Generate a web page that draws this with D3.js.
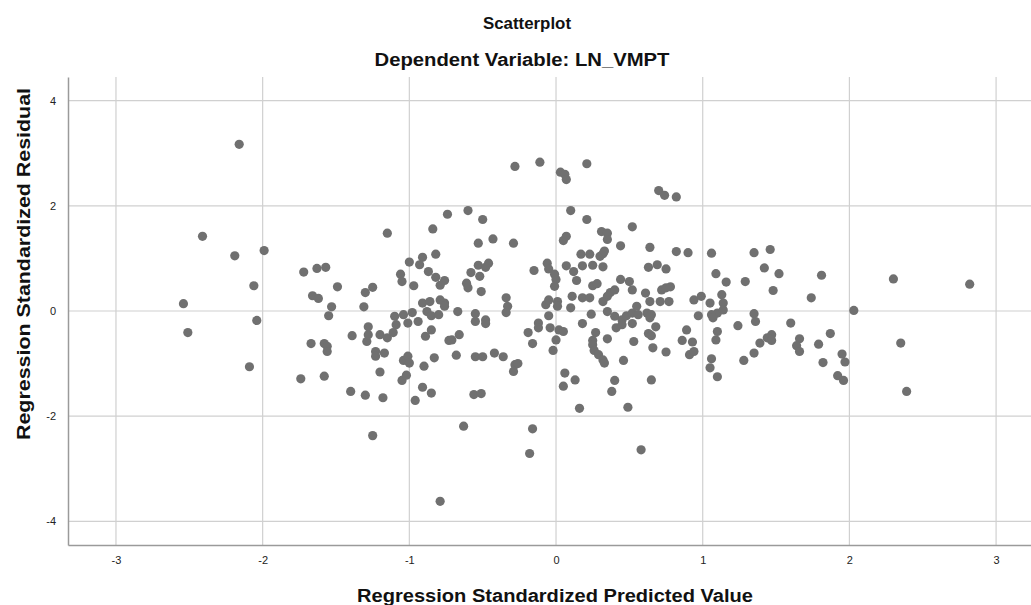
<!DOCTYPE html>
<html lang="en">
  <head>
    <meta charset="UTF-8" />
    <title>Scatterplot</title>
    <script src="https://cdn.jsdelivr.net/npm/d3@7"></script>
    <style>
      body { margin: 0; background: #fff; }
      text { font-family: Arial, "Liberation Sans", sans-serif; }
    </style>
  </head>
  <body>
    <div id="chart"></div>
    <script>
      // standardized predicted values (x) and residuals (y)
      const predicted = [
        -2.16, -2.41, -2.19, -1.99, -1.72, -1.63, -1.57, -2.06, -1.49, -1.66, -1.62, -1.30, -1.25, -2.54, -1.53, -1.31,
        -1.55, -2.04, -2.51, -2.09, -1.67, -1.58, -1.56, -1.56, -1.39, -1.28, -1.29, -1.74, -1.58, -1.40, -1.30, -1.25, -1.28,
        -0.28, -0.11, -0.74, -0.60, -0.50, -1.15, -0.84, -0.53, -0.43, -0.29, -0.82, -0.91, -0.93, -1.00, -1.06, -1.05,
        -0.87, -0.82, -0.76, -0.79, -0.97, -0.58, -0.53, -0.46, -0.48, -0.52, -0.61, -0.60, -0.51, -0.15, -0.06, -0.05,
        -0.01, 0.00, -0.01, -0.34, -0.33, -0.91, -0.86, -0.79, -0.76, -0.76, -0.07, -0.05, 0.01, 0.01,
        -1.10, -1.04, -0.98, -0.88, -0.85, -0.80, -0.67, -0.55, -0.55, -0.48, -0.48, -0.34, -0.05, -0.12, -0.12, -0.04, 0.02,
        -1.20, -1.15, -1.11, -1.09, -1.01, -0.94, -0.89, -0.85, -0.73, -0.71, -0.66, -1.23, -1.23, -1.17, -1.04, -1.01,
        -1.00, -0.83, -0.90, -0.68, -0.55, -0.50, -0.42, -0.36, -0.28, -0.26, -0.29, -0.19, -0.16, -0.02, 0.00, -1.20,
        -1.05, -1.02, -0.91, -0.85, -1.18, -0.96, -0.56, -0.51, -0.63, -0.16, -0.18, -0.79,
        0.03, 0.06, 0.07, 0.21, 0.70, 0.74, 0.82, 0.10, 0.21, 0.31, 0.35, 0.35, 0.52, 0.05, 0.07, 0.44, 0.64, 0.82, 0.90,
        1.06, 0.17, 0.23, 0.30, 0.32, 0.33, 0.07, 0.12, 0.18, 0.25, 0.32, 0.14, 0.63, 0.69, 0.75, 1.09, 1.16, 1.29, 0.44,
        0.50, 0.52, 0.25, 0.28, 0.72, 0.75, 0.78, 0.37, 0.40, 0.35, 0.32, 0.11, 0.18, 0.23, 0.61, 0.64, 0.71, 0.77, 0.94,
        0.99, 1.05, 1.13, 1.14, 0.10, 0.55,
        0.24, 0.35, 0.40, 0.45, 0.48, 0.52, 0.56, 0.62, 0.65, 0.64, 0.97, 1.06, 1.10, 1.14, 1.07, 0.05, 0.18, 0.27, 0.25,
        0.25, 0.26, 0.29, 0.32, 0.33, 0.35, 0.41, 0.45, 0.52, 0.53, 0.63, 0.65, 0.68, 0.66, 0.75, 0.89, 0.86, 0.93, 0.91,
        0.94, 1.10, 1.09, 1.24, 1.06, 1.05, 1.10, 1.28, 0.46, 0.06, 0.05, 0.13, 0.40, 0.38, 0.65, 0.16, 0.49, 0.58,
        2.03, 1.35, 1.36, 1.60, 1.47, 1.44, 1.47, 1.39, 1.35, 1.66, 1.64, 1.66, 1.79, 1.87, 1.82, 1.95, 1.97, 1.92, 1.96,
        2.35, 2.39, 1.35, 1.46, 1.42, 1.52, 1.48, 1.81, 1.74, 2.30, 2.82
      ];
      const residual = [
        3.17, 1.42, 1.05, 1.15, 0.74, 0.81, 0.83, 0.48, 0.46, 0.29, 0.24, 0.35, 0.45, 0.14, 0.08, 0.08,
        -0.09, -0.18, -0.41, -1.06, -0.62, -0.62, -0.67, -0.77, -0.47, -0.30, -0.58, -1.29, -1.24, -1.53, -1.60, -2.37, -0.45,
        2.75, 2.83, 1.84, 1.91, 1.74, 1.48, 1.56, 1.29, 1.37, 1.29, 1.08, 1.02, 0.88, 0.93, 0.70, 0.56,
        0.75, 0.64, 0.58, 0.49, 0.48, 0.73, 0.87, 0.91, 0.83, 0.66, 0.53, 0.44, 0.37, 0.77, 0.91, 0.80,
        0.70, 0.60, 0.47, 0.25, 0.09, 0.15, 0.18, 0.21, 0.15, 0.09, 0.12, 0.21, 0.18, 0.09,
        -0.10, -0.07, -0.03, -0.01, -0.09, -0.07, -0.01, -0.05, -0.20, -0.17, -0.24, -0.03, -0.09, -0.23, -0.32, -0.32, -0.36,
        -0.45, -0.51, -0.41, -0.26, -0.23, -0.20, -0.48, -0.36, -0.56, -0.55, -0.45, -0.77, -0.86, -0.80, -0.94, -0.86,
        -0.99, -0.89, -1.05, -0.84, -0.87, -0.87, -0.80, -0.87, -1.02, -1.00, -1.15, -0.41, -0.62, -0.75, -0.55, -1.16,
        -1.32, -1.22, -1.45, -1.56, -1.65, -1.70, -1.59, -1.57, -2.19, -2.24, -2.71, -3.62,
        2.64, 2.60, 2.50, 2.80, 2.29, 2.20, 2.17, 1.91, 1.74, 1.51, 1.48, 1.36, 1.60, 1.34, 1.42, 1.24, 1.21, 1.13, 1.11,
        1.10, 1.08, 1.08, 1.04, 1.09, 1.14, 0.86, 0.75, 0.86, 0.87, 0.84, 0.58, 0.83, 0.88, 0.80, 0.71, 0.55, 0.56, 0.60,
        0.56, 0.40, 0.48, 0.52, 0.40, 0.44, 0.46, 0.35, 0.40, 0.28, 0.18, 0.28, 0.25, 0.25, 0.34, 0.18, 0.18, 0.18, 0.21,
        0.28, 0.15, 0.31, 0.15, 0.06, 0.09,
        -0.06, -0.01, -0.10, -0.17, -0.09, -0.04, -0.07, -0.04, -0.07, -0.13, -0.09, -0.07, -0.04, 0.02, -0.13, -0.39, -0.24, -0.41, -0.56,
        -0.64, -0.75, -0.83, -0.93, -0.99, -0.53, -0.32, -0.26, -0.24, -0.58, -0.43, -0.47, -0.30, -0.70, -0.78, -0.36, -0.56, -0.59, -0.83,
        -0.77, -0.39, -0.55, -0.28, -0.91, -1.08, -1.25, -0.94, -0.94, -1.18, -1.43, -1.31, -1.32, -1.53, -1.31, -1.85, -1.83, -2.64,
        0.01, -0.05, -0.20, -0.23, -0.45, -0.51, -0.56, -0.61, -0.80, -0.53, -0.66, -0.77, -0.63, -0.43, -0.98, -0.82, -0.97, -1.23, -1.32,
        -0.61, -1.53, 1.11, 1.17, 0.82, 0.71, 0.39, 0.68, 0.25, 0.61, 0.51
      ];
      const xTicks = [-3, -2, -1, 0, 1, 2, 3];
      const yTicks = [-4, -2, 0, 2, 4];

      (() => {
        const width = 1031, height = 605;
        const plotLeft = 68, plotRight = 1031, plotTop = 77, plotBottom = 545;

        const x = d3.scaleLinear().domain([-3.327, 3.238]).range([plotLeft, plotRight]);
        const y = d3.scaleLinear().domain([-4.45, 4.45]).range([plotBottom, plotTop]);

        const svg = d3.select("#chart").append("svg")
          .attr("width", width).attr("height", height);

        // grid
        svg.append("g").selectAll("line").data(xTicks).join("line")
          .attr("x1", d => x(d)).attr("x2", d => x(d))
          .attr("y1", plotTop).attr("y2", plotBottom)
          .attr("stroke", "#d0d0d0").attr("stroke-width", 1.2);
        svg.append("g").selectAll("line").data(yTicks).join("line")
          .attr("x1", plotLeft).attr("x2", plotRight)
          .attr("y1", d => y(d)).attr("y2", d => y(d))
          .attr("stroke", "#d0d0d0").attr("stroke-width", 1.2);

        // axes (plain hyphen for negatives, like the original)
        const fmt = d => String(d);
        const xAxis = svg.append("g").attr("transform", `translate(0,${plotBottom})`)
          .call(d3.axisBottom(x).tickValues(xTicks).tickSize(0).tickPadding(11).tickFormat(fmt));
        const yAxis = svg.append("g").attr("transform", `translate(${plotLeft},0)`)
          .call(d3.axisLeft(y).tickValues(yTicks).tickSize(0).tickPadding(12).tickFormat(fmt));
        [xAxis, yAxis].forEach(a => {
          a.select(".domain").attr("stroke", "#9a9a9a").attr("stroke-width", 1.5);
          a.selectAll("text").attr("font-size", 11).attr("fill", "#222")
            .attr("font-family", "Arial, 'Liberation Sans', sans-serif");
        });

        // points
        svg.append("g").selectAll("circle").data(predicted).join("circle")
          .attr("cx", d => x(d))
          .attr("cy", (d, i) => y(residual[i]))
          .attr("r", 4.6)
          .attr("fill", "#707070");

        // titles
        svg.append("text").attr("x", 527).attr("y", 29).attr("text-anchor", "middle")
          .attr("font-size", 16).attr("font-weight", "bold").attr("fill", "#111")
          .attr("textLength", 88).attr("lengthAdjust", "spacingAndGlyphs").text("Scatterplot");
        svg.append("text").attr("x", 522).attr("y", 66).attr("text-anchor", "middle")
          .attr("font-size", 18).attr("font-weight", "bold").attr("fill", "#111")
          .attr("textLength", 295).attr("lengthAdjust", "spacingAndGlyphs").text("Dependent Variable: LN_VMPT");
        svg.append("text").attr("x", 555).attr("y", 602).attr("text-anchor", "middle")
          .attr("font-size", 18).attr("font-weight", "bold").attr("fill", "#111")
          .attr("textLength", 396).attr("lengthAdjust", "spacingAndGlyphs")
          .text("Regression Standardized Predicted Value");
        svg.append("text").attr("transform", "translate(30,264) rotate(-90)").attr("text-anchor", "middle")
          .attr("font-size", 18).attr("font-weight", "bold").attr("fill", "#111")
          .attr("textLength", 352).attr("lengthAdjust", "spacingAndGlyphs")
          .text("Regression Standardized Residual");
      })();
    </script>
  </body>
</html>
